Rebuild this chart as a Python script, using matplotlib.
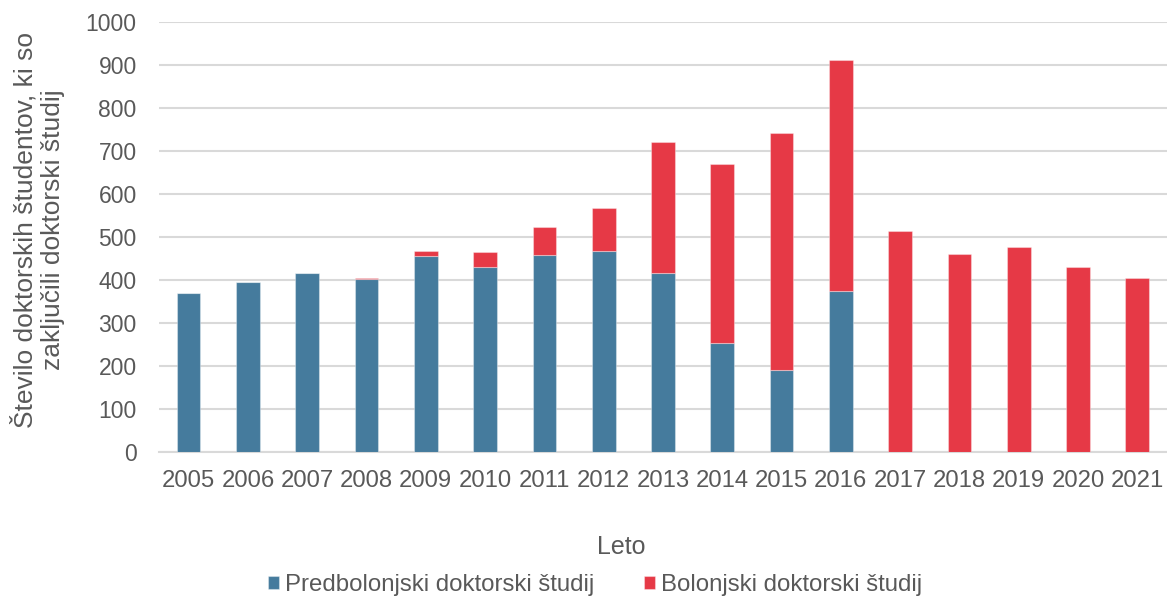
import matplotlib

matplotlib.use("Agg")

import matplotlib.pyplot as plt
import numpy as np

years = [str(y) for y in range(2005, 2022)]
predbolonjski = [369, 394, 415, 403, 455, 430, 457, 468, 415, 254, 191, 374, 0, 0, 0, 0, 0]
bolonjski = [0, 0, 0, 2, 11, 34, 66, 100, 306, 415, 551, 537, 513, 460, 477, 431, 405]

BLUE = "#457B9D"
RED = "#E63946"
TEXT = "#595959"
GRID = "#D9D9D9"

plt.rcParams["font.family"] = ["Liberation Sans", "DejaVu Sans"]

fig = plt.figure(figsize=(11.67, 5.97), dpi=100)
ax = fig.add_axes([0.1362, 0.2434, 0.8638, 0.7197])

x = np.arange(len(years))
ax.bar(x, predbolonjski, width=0.4, color=BLUE, edgecolor=(1, 1, 1, 0.35),
       linewidth=0.8, label="Predbolonjski doktorski študij", zorder=3)
ax.bar(x, bolonjski, width=0.4, bottom=predbolonjski, color=RED,
       edgecolor=(1, 1, 1, 0.35), linewidth=0.8,
       label="Bolonjski doktorski študij", zorder=3)

ax.set_xlim(-0.5, len(years) - 0.5)
ax.set_ylim(0, 1000)
ax.set_yticks(range(0, 1001, 100))
ax.set_xticks(x)
ax.set_xticklabels(years)
ax.tick_params(axis="both", length=0, colors=TEXT)
ax.tick_params(axis="y", pad=16, labelsize=16.5)
ax.tick_params(axis="x", pad=13.5, labelsize=17.2)
ax.grid(axis="y", color=GRID, linewidth=1.5, zorder=0)
for side in ["top", "right", "left"]:
    ax.spines[side].set_visible(False)
ax.spines["bottom"].set_color(GRID)
ax.spines["bottom"].set_linewidth(1.5)

fig.text(38 / 1167, 1 - 230 / 597,
         "Število doktorskih študentov, ki so\nzaključili doktorski študij",
         rotation=90, ha="center", va="center", multialignment="center",
         fontsize=19, color=TEXT, linespacing=1.2)
fig.text(621 / 1167, 1 - 547 / 597, "Leto", ha="center", va="center",
         fontsize=18, color=TEXT)

fig.legend(loc="center", bbox_to_anchor=(595 / 1167, 1 - 585 / 597), ncol=2,
           frameon=False, fontsize=17.3, labelcolor=TEXT, handlelength=0.46,
           handleheight=0.46, handletextpad=0.25, columnspacing=2.1,
           borderpad=0, borderaxespad=0)

fig.savefig("out.png", dpi=100)
